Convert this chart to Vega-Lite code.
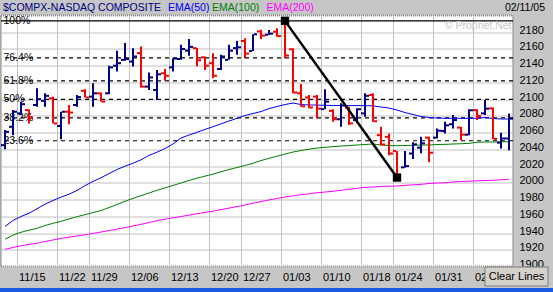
{
  "$schema": "https://vega.github.io/schema/vega-lite/v6.json",
  "width": 512,
  "height": 251,
  "autosize": {"type": "none"},
  "padding": {"left": 1, "top": 15.5, "right": 40, "bottom": 25.5},
  "background": "#c6c6c6",
  "config": {
    "view": {"fill": "#ffffff", "stroke": "#888888", "strokeWidth": 2, "strokeDash": [1, 1]},
    "font": "Liberation Sans",
    "text": {"font": "Liberation Sans"},
    "axisY": {
      "grid": true, "gridColor": "#c0c0c0", "gridWidth": 1,
      "domain": false, "ticks": false, "tickCount": 20,
      "labelPadding": 6, "labelFontSize": 11, "labelFont": "Liberation Sans",
      "labelColor": "#000000", "labelOffset": -2, "labelBaseline": "middle",
      "labelFlush": false, "labelOverlap": false, "format": "d"
    },
    "axisX": {
      "grid": true, "gridColor": "#c0c0c0", "gridWidth": 1,
      "domain": false, "ticks": false,
      "labelAlign": "left", "labelAngle": 0, "labelOffset": -2, "labelPadding": 5,
      "labelFontSize": 11, "labelFont": "Liberation Sans", "labelColor": "#000000",
      "labelOverlap": false, "labelFlush": false
    }
  },
  "datasets": {
    "bars": [
      {"date": "2004-11-11", "open": 2045, "high": 2063, "low": 2040, "close": 2061, "ema50": 1947.8, "ema100": 1932.6, "ema200": 1920.5},
      {"date": "2004-11-12", "open": 2067, "high": 2087, "low": 2057, "close": 2085, "ema50": 1955, "ema100": 1937.6, "ema200": 1922.7},
      {"date": "2004-11-15", "open": 2083, "high": 2097, "low": 2081, "close": 2094, "ema50": 1959.7, "ema100": 1940.9, "ema200": 1924.8},
      {"date": "2004-11-16", "open": 2087, "high": 2088, "low": 2071, "close": 2078, "ema50": 1963.7, "ema100": 1943.4, "ema200": 1926.4},
      {"date": "2004-11-17", "open": 2093, "high": 2113, "low": 2091, "close": 2100, "ema50": 1969, "ema100": 1945.6, "ema200": 1927.8},
      {"date": "2004-11-18", "open": 2098, "high": 2107, "low": 2091, "close": 2104, "ema50": 1974.5, "ema100": 1949, "ema200": 1929.9},
      {"date": "2004-11-19", "open": 2101, "high": 2103, "low": 2071, "close": 2071, "ema50": 1978.9, "ema100": 1951.6, "ema200": 1931.7},
      {"date": "2004-11-22", "open": 2068, "high": 2085, "low": 2052, "close": 2085, "ema50": 1982.9, "ema100": 1954, "ema200": 1933.5},
      {"date": "2004-11-23", "open": 2085, "high": 2093, "low": 2070, "close": 2084, "ema50": 1986.4, "ema100": 1956.8, "ema200": 1935.1},
      {"date": "2004-11-24", "open": 2093, "high": 2105, "low": 2091, "close": 2102.5, "ema50": 1990.9, "ema100": 1959.5, "ema200": 1936.4},
      {"date": "2004-11-26", "open": 2110, "high": 2112, "low": 2102, "close": 2102, "ema50": 1996.7, "ema100": 1962, "ema200": 1937.9},
      {"date": "2004-11-29", "open": 2103, "high": 2119, "low": 2091, "close": 2107, "ema50": 2001.7, "ema100": 1964.4, "ema200": 1939.5},
      {"date": "2004-11-30", "open": 2107, "high": 2108, "low": 2097, "close": 2097, "ema50": 2006.1, "ema100": 1966.9, "ema200": 1941.2},
      {"date": "2004-12-01", "open": 2107, "high": 2140, "low": 2106, "close": 2138, "ema50": 2011, "ema100": 1970.4, "ema200": 1942.9},
      {"date": "2004-12-02", "open": 2140, "high": 2158, "low": 2133, "close": 2143, "ema50": 2015.9, "ema100": 1974.1, "ema200": 1944.7},
      {"date": "2004-12-03", "open": 2147, "high": 2167, "low": 2146, "close": 2148, "ema50": 2019.9, "ema100": 1978, "ema200": 1946.5},
      {"date": "2004-12-06", "open": 2145, "high": 2161, "low": 2139, "close": 2151, "ema50": 2023.4, "ema100": 1981.4, "ema200": 1948.4},
      {"date": "2004-12-07", "open": 2155, "high": 2163, "low": 2114, "close": 2115, "ema50": 2027.5, "ema100": 1984.7, "ema200": 1950.4},
      {"date": "2004-12-08", "open": 2115, "high": 2132, "low": 2111, "close": 2126, "ema50": 2032.8, "ema100": 1987.8, "ema200": 1952.6},
      {"date": "2004-12-09", "open": 2111, "high": 2135, "low": 2099, "close": 2129.7, "ema50": 2036.6, "ema100": 1991.1, "ema200": 1954.7},
      {"date": "2004-12-10", "open": 2131, "high": 2136, "low": 2122, "close": 2128, "ema50": 2041, "ema100": 1994, "ema200": 1956.6},
      {"date": "2004-12-13", "open": 2138, "high": 2149, "low": 2133, "close": 2148.5, "ema50": 2046.4, "ema100": 1996.9, "ema200": 1958.2},
      {"date": "2004-12-14", "open": 2148, "high": 2165, "low": 2147, "close": 2160, "ema50": 2053.6, "ema100": 1999.8, "ema200": 1959.7},
      {"date": "2004-12-15", "open": 2158, "high": 2172, "low": 2152, "close": 2162.5, "ema50": 2057.1, "ema100": 2002.8, "ema200": 1961.5},
      {"date": "2004-12-16", "open": 2161, "high": 2161.5, "low": 2139, "close": 2146.5, "ema50": 2060.4, "ema100": 2005.5, "ema200": 1963.1},
      {"date": "2004-12-17", "open": 2150, "high": 2151, "low": 2135, "close": 2140, "ema50": 2063.8, "ema100": 2008, "ema200": 1964.6},
      {"date": "2004-12-20", "open": 2143, "high": 2155, "low": 2125, "close": 2128, "ema50": 2067.1, "ema100": 2010.4, "ema200": 1966.2},
      {"date": "2004-12-21", "open": 2136, "high": 2153, "low": 2135, "close": 2151, "ema50": 2070.5, "ema100": 2013.2, "ema200": 1968},
      {"date": "2004-12-22", "open": 2147, "high": 2165, "low": 2147, "close": 2158, "ema50": 2073.9, "ema100": 2015.9, "ema200": 1969.8},
      {"date": "2004-12-23", "open": 2161, "high": 2169.5, "low": 2153, "close": 2162, "ema50": 2077.1, "ema100": 2018.3, "ema200": 1971.6},
      {"date": "2004-12-27", "open": 2169.5, "high": 2172.7, "low": 2149, "close": 2154.5, "ema50": 2080.5, "ema100": 2020.7, "ema200": 1973.5},
      {"date": "2004-12-28", "open": 2157.5, "high": 2177.5, "low": 2157.5, "close": 2177.5, "ema50": 2082.9, "ema100": 2023.4, "ema200": 1975.6},
      {"date": "2004-12-29", "open": 2181, "high": 2183, "low": 2172, "close": 2176, "ema50": 2085.2, "ema100": 2026.6, "ema200": 1977.7},
      {"date": "2004-12-30", "open": 2177, "high": 2182.6, "low": 2176.7, "close": 2178.3, "ema50": 2088.8, "ema100": 2029.3, "ema200": 1979.5},
      {"date": "2004-12-31", "open": 2180.6, "high": 2184.7, "low": 2174.6, "close": 2175.4, "ema50": 2091.2, "ema100": 2031.8, "ema200": 1981.3},
      {"date": "2005-01-03", "open": 2190, "high": 2192.6, "low": 2149, "close": 2152.2, "ema50": 2093.6, "ema100": 2034.4, "ema200": 1983},
      {"date": "2005-01-04", "open": 2159.6, "high": 2160.8, "low": 2107, "close": 2108, "ema50": 2095.4, "ema100": 2036.8, "ema200": 1984.5},
      {"date": "2005-01-05", "open": 2107, "high": 2118, "low": 2091, "close": 2091.5, "ema50": 2093.6, "ema100": 2038.6, "ema200": 1985.8},
      {"date": "2005-01-06", "open": 2102, "high": 2105, "low": 2089, "close": 2090, "ema50": 2093, "ema100": 2040.2, "ema200": 1986.9},
      {"date": "2005-01-07", "open": 2103, "high": 2105, "low": 2077, "close": 2088.6, "ema50": 2093, "ema100": 2041.6, "ema200": 1988.1},
      {"date": "2005-01-10", "open": 2088, "high": 2111.8, "low": 2087.9, "close": 2097, "ema50": 2092.6, "ema100": 2042.4, "ema200": 1989},
      {"date": "2005-01-11", "open": 2086, "high": 2088, "low": 2073, "close": 2076, "ema50": 2092.5, "ema100": 2043.3, "ema200": 1989.9},
      {"date": "2005-01-12", "open": 2076, "high": 2095, "low": 2067, "close": 2092.5, "ema50": 2092.4, "ema100": 2044, "ema200": 1991.1},
      {"date": "2005-01-13", "open": 2090, "high": 2091, "low": 2069, "close": 2071, "ema50": 2092.3, "ema100": 2044.6, "ema200": 1992.3},
      {"date": "2005-01-14", "open": 2075, "high": 2089, "low": 2072, "close": 2088, "ema50": 2092.3, "ema100": 2045.2, "ema200": 1993.4},
      {"date": "2005-01-18", "open": 2083, "high": 2107, "low": 2079, "close": 2104, "ema50": 2092.2, "ema100": 2045.8, "ema200": 1994.6},
      {"date": "2005-01-19", "open": 2105, "high": 2107, "low": 2073, "close": 2073.6, "ema50": 2092, "ema100": 2046.4, "ema200": 1995},
      {"date": "2005-01-20", "open": 2057, "high": 2067, "low": 2045, "close": 2045.9, "ema50": 2090.6, "ema100": 2045.2, "ema200": 1995.6},
      {"date": "2005-01-21", "open": 2055, "high": 2059, "low": 2033, "close": 2035, "ema50": 2089.4, "ema100": 2044.6, "ema200": 1996},
      {"date": "2005-01-24", "open": 2038, "high": 2038, "low": 2005.4, "close": 2008.7, "ema50": 2087, "ema100": 2044.4, "ema200": 1996.2},
      {"date": "2005-01-25", "open": 2018.5, "high": 2038, "low": 2018, "close": 2020, "ema50": 2084, "ema100": 2044.6, "ema200": 1997},
      {"date": "2005-01-26", "open": 2035, "high": 2048.4, "low": 2028.5, "close": 2046, "ema50": 2081.7, "ema100": 2044.8, "ema200": 1997.6},
      {"date": "2005-01-27", "open": 2042, "high": 2055, "low": 2035.3, "close": 2047.2, "ema50": 2079.3, "ema100": 2045.2, "ema200": 1998.2},
      {"date": "2005-01-28", "open": 2054, "high": 2055, "low": 2024.5, "close": 2036, "ema50": 2078.1, "ema100": 2045.2, "ema200": 1999.2},
      {"date": "2005-01-31", "open": 2054, "high": 2065, "low": 2053, "close": 2062.4, "ema50": 2077.5, "ema100": 2045.8, "ema200": 1999.8},
      {"date": "2005-02-01", "open": 2062, "high": 2073, "low": 2059, "close": 2068.7, "ema50": 2077.1, "ema100": 2046, "ema200": 2000.1},
      {"date": "2005-02-02", "open": 2070, "high": 2081, "low": 2065, "close": 2075, "ema50": 2077.1, "ema100": 2046.4, "ema200": 2001},
      {"date": "2005-02-03", "open": 2066, "high": 2067, "low": 2051, "close": 2057.6, "ema50": 2077.1, "ema100": 2046.7, "ema200": 2001.6},
      {"date": "2005-02-04", "open": 2057.5, "high": 2088, "low": 2057, "close": 2086.7, "ema50": 2077.1, "ema100": 2047.2, "ema200": 2001.9},
      {"date": "2005-02-07", "open": 2087, "high": 2088, "low": 2075, "close": 2080, "ema50": 2077.1, "ema100": 2048.4, "ema200": 2002.4},
      {"date": "2005-02-08", "open": 2083, "high": 2099, "low": 2081, "close": 2088.6, "ema50": 2078.1, "ema100": 2048.8, "ema200": 2002.8},
      {"date": "2005-02-09", "open": 2089, "high": 2090, "low": 2052, "close": 2052.5, "ema50": 2076.9, "ema100": 2048.8, "ema200": 2003.1},
      {"date": "2005-02-10", "open": 2048, "high": 2060, "low": 2041, "close": 2053, "ema50": 2076.3, "ema100": 2049, "ema200": 2003.6},
      {"date": "2005-02-11", "open": 2053, "high": 2083, "low": 2039, "close": 2076.7, "ema50": 2076.3, "ema100": 2049.1, "ema200": 2004.2}
    ],
    "fib": [
      {"level": "100%", "price": 2193.6},
      {"level": "76.4%", "price": 2149.3},
      {"level": "61.8%", "price": 2121.9},
      {"level": "50%", "price": 2099.8},
      {"level": "38.2%", "price": 2077.7},
      {"level": "23.6%", "price": 2050.3}
    ],
    "trend": [
      {"date": "2005-01-03", "price": 2193.6},
      {"date": "2005-01-24", "price": 2006.3}
    ]
  },
  "layer": [
    {
      "data": {"name": "fib"},
      "mark": {"type": "rule", "color": "#000000", "strokeWidth": 1.2},
      "encoding": {
        "y": {
          "field": "price", "type": "quantitative", "title": null,
          "scale": {"domain": [1900, 2200], "nice": false, "zero": false},
          "axis": {
            "orient": "right", "tickCount": 20,
            "values": [1900, 1920, 1940, 1960, 1980, 2000, 2020, 2040, 2060, 2080, 2100, 2120, 2140, 2160, 2180]
          }
        },
        "strokeDash": {
          "condition": {"test": "datum.level === '100%'", "value": [1, 0]},
          "value": [4, 4]
        }
      }
    },
    {
      "data": {"name": "bars"},
      "mark": {"type": "line", "color": "#0000ff", "strokeWidth": 1},
      "encoding": {
        "x": {
          "field": "date", "type": "ordinal", "bandPosition": 0.5, "title": null,
          "scale": {"type": "band", "paddingInner": 0, "paddingOuter": 0},
          "axis": {
            "values": ["2004-11-15", "2004-11-22", "2004-11-29", "2004-12-06", "2004-12-13", "2004-12-20", "2004-12-27", "2005-01-03", "2005-01-10", "2005-01-18", "2005-01-24", "2005-01-31", "2005-02-07"],
            "labelExpr": "slice(datum.value, 5, 7) + '/' + slice(datum.value, 8, 10)",
            "bandPosition": 0
          }
        },
        "y": {"field": "ema50", "type": "quantitative", "title": null, "axis": {"orient": "right", "tickCount": 20}}
      }
    },
    {
      "data": {"name": "fib"},
      "mark": {"type": "text", "align": "left", "baseline": "middle", "dx": 2.5, "fontSize": 10.5, "color": "#000000"},
      "encoding": {
        "x": {"datum": "2004-11-11", "type": "ordinal", "bandPosition": 0, "title": null},
        "y": {"field": "price", "type": "quantitative", "title": null, "axis": {"orient": "right", "tickCount": 20}},
        "text": {"field": "level"}
      }
    },
    {
      "data": {"name": "bars"},
      "mark": {"type": "line", "color": "#008000", "strokeWidth": 1},
      "encoding": {
        "x": {"field": "date", "type": "ordinal", "bandPosition": 0.5, "title": null},
        "y": {"field": "ema100", "type": "quantitative", "title": null, "axis": {"orient": "right", "tickCount": 20}}
      }
    },
    {
      "data": {"name": "bars"},
      "mark": {"type": "line", "color": "#ff00ff", "strokeWidth": 1},
      "encoding": {
        "x": {"field": "date", "type": "ordinal", "bandPosition": 0.5, "title": null},
        "y": {"field": "ema200", "type": "quantitative", "title": null, "axis": {"orient": "right", "tickCount": 20}}
      }
    },
    {
      "data": {"name": "bars"},
      "mark": {"type": "rule", "strokeWidth": 2},
      "encoding": {
        "x": {"field": "date", "type": "ordinal", "bandPosition": 0.5, "title": null},
        "y": {"field": "low", "type": "quantitative", "title": null, "axis": {"orient": "right", "tickCount": 20}},
        "y2": {"field": "high"},
        "color": {"condition": {"test": "datum.close >= datum.open", "value": "#000080"}, "value": "#ff0000"}
      }
    },
    {
      "data": {"name": "bars"},
      "mark": {"type": "tick", "orient": "horizontal", "size": 3, "thickness": 2, "xOffset": -2.5, "opacity": 1},
      "encoding": {
        "x": {"field": "date", "type": "ordinal", "bandPosition": 0.5, "title": null},
        "y": {"field": "open", "type": "quantitative", "title": null, "axis": {"orient": "right", "tickCount": 20}},
        "color": {"condition": {"test": "datum.close >= datum.open", "value": "#000080"}, "value": "#ff0000"}
      }
    },
    {
      "data": {"name": "bars"},
      "mark": {"type": "tick", "orient": "horizontal", "size": 3, "thickness": 2, "xOffset": 2.5, "opacity": 1},
      "encoding": {
        "x": {"field": "date", "type": "ordinal", "bandPosition": 0.5, "title": null},
        "y": {"field": "close", "type": "quantitative", "title": null, "axis": {"orient": "right", "tickCount": 20}},
        "color": {"condition": {"test": "datum.close >= datum.open", "value": "#000080"}, "value": "#ff0000"}
      }
    },
    {
      "data": {"name": "trend"},
      "mark": {"type": "line", "color": "#000000", "strokeWidth": 2.5},
      "encoding": {
        "x": {"field": "date", "type": "ordinal", "bandPosition": 0.5, "title": null},
        "y": {"field": "price", "type": "quantitative", "title": null, "axis": {"orient": "right", "tickCount": 20}}
      }
    },
    {
      "data": {"name": "trend"},
      "mark": {"type": "square", "size": 70, "color": "#000000", "filled": true, "opacity": 1},
      "encoding": {
        "x": {"field": "date", "type": "ordinal", "bandPosition": 0.5, "title": null},
        "y": {"field": "price", "type": "quantitative", "title": null, "axis": {"orient": "right", "tickCount": 20}}
      }
    },
    {
      "data": {"values": [{}]},
      "mark": {"type": "text", "text": "$COMPX-NASDAQ COMPOSITE", "align": "left", "baseline": "middle", "dx": 2, "fontSize": 10.5, "color": "#000080"},
      "encoding": {
        "x": {"datum": "2004-11-11", "type": "ordinal", "bandPosition": 0, "title": null},
        "y": {"datum": 2209.5, "type": "quantitative", "title": null, "axis": {"orient": "right", "tickCount": 20}}
      }
    },
    {
      "data": {"values": [{}]},
      "mark": {"type": "text", "text": "EMA(50)", "align": "left", "baseline": "middle", "dx": -1, "fontSize": 10.5, "color": "#0000ff"},
      "encoding": {
        "x": {"datum": "2004-12-13", "type": "ordinal", "bandPosition": 0, "title": null},
        "y": {"datum": 2209.5, "type": "quantitative", "title": null, "axis": {"orient": "right", "tickCount": 20}}
      }
    },
    {
      "data": {"values": [{}]},
      "mark": {"type": "text", "text": "EMA(100)", "align": "left", "baseline": "middle", "dx": 3, "fontSize": 10.5, "color": "#008000"},
      "encoding": {
        "x": {"datum": "2004-12-20", "type": "ordinal", "bandPosition": 0, "title": null},
        "y": {"datum": 2209.5, "type": "quantitative", "title": null, "axis": {"orient": "right", "tickCount": 20}}
      }
    },
    {
      "data": {"values": [{}]},
      "mark": {"type": "text", "text": "EMA(200)", "align": "left", "baseline": "middle", "dx": 1.5, "fontSize": 10.5, "color": "#ff00ff"},
      "encoding": {
        "x": {"datum": "2004-12-30", "type": "ordinal", "bandPosition": 0, "title": null},
        "y": {"datum": 2209.5, "type": "quantitative", "title": null, "axis": {"orient": "right", "tickCount": 20}}
      }
    },
    {
      "data": {"values": [{}]},
      "mark": {"type": "text", "text": "02/11/05", "align": "right", "baseline": "middle", "dx": 32, "fontSize": 10.5, "color": "#000000"},
      "encoding": {
        "x": {"datum": "2005-02-11", "type": "ordinal", "bandPosition": 1, "title": null},
        "y": {"datum": 2209.5, "type": "quantitative", "title": null, "axis": {"orient": "right", "tickCount": 20}}
      }
    },
    {
      "data": {"values": [{}]},
      "mark": {"type": "text", "text": "© Prophet.Net", "align": "right", "baseline": "middle", "dx": -1.5, "fontSize": 10.5, "color": "#c8c8c8"},
      "encoding": {
        "x": {"datum": "2005-02-11", "type": "ordinal", "bandPosition": 1, "title": null},
        "y": {"datum": 2187.4, "type": "quantitative", "title": null, "axis": {"orient": "right", "tickCount": 20}}
      }
    },
    {
      "data": {"values": [{}]},
      "mark": {"type": "rect", "color": "#1a5ae0", "xOffset": -1, "x2Offset": 40},
      "encoding": {
        "x": {"datum": "2004-11-11", "type": "ordinal", "bandPosition": 0, "title": null},
        "x2": {"datum": "2005-02-11", "bandPosition": 1},
        "y": {"datum": 1874.3, "type": "quantitative", "title": null, "axis": {"orient": "right", "tickCount": 20}},
        "y2": {"datum": 1868.0}
      }
    },
    {
      "data": {"values": [{}]},
      "mark": {"type": "rect", "fill": "#d4d1cb", "stroke": "#7a7a7a", "strokeWidth": 1, "x2Offset": 35},
      "encoding": {
        "x": {"datum": "2005-02-08", "type": "ordinal", "bandPosition": 0.5, "title": null},
        "x2": {"datum": "2005-02-11", "bandPosition": 1},
        "y": {"datum": 1899.4, "type": "quantitative", "title": null, "axis": {"orient": "right", "tickCount": 20}},
        "y2": {"datum": 1876.7}
      }
    },
    {
      "data": {"values": [{}]},
      "mark": {"type": "text", "text": "Clear Lines", "align": "center", "baseline": "middle", "dx": 3.5, "fontSize": 11, "color": "#000000"},
      "encoding": {
        "x": {"datum": "2005-02-11", "type": "ordinal", "bandPosition": 1, "title": null},
        "y": {"datum": 1887.4, "type": "quantitative", "title": null, "axis": {"orient": "right", "tickCount": 20}}
      }
    }
  ]
}
